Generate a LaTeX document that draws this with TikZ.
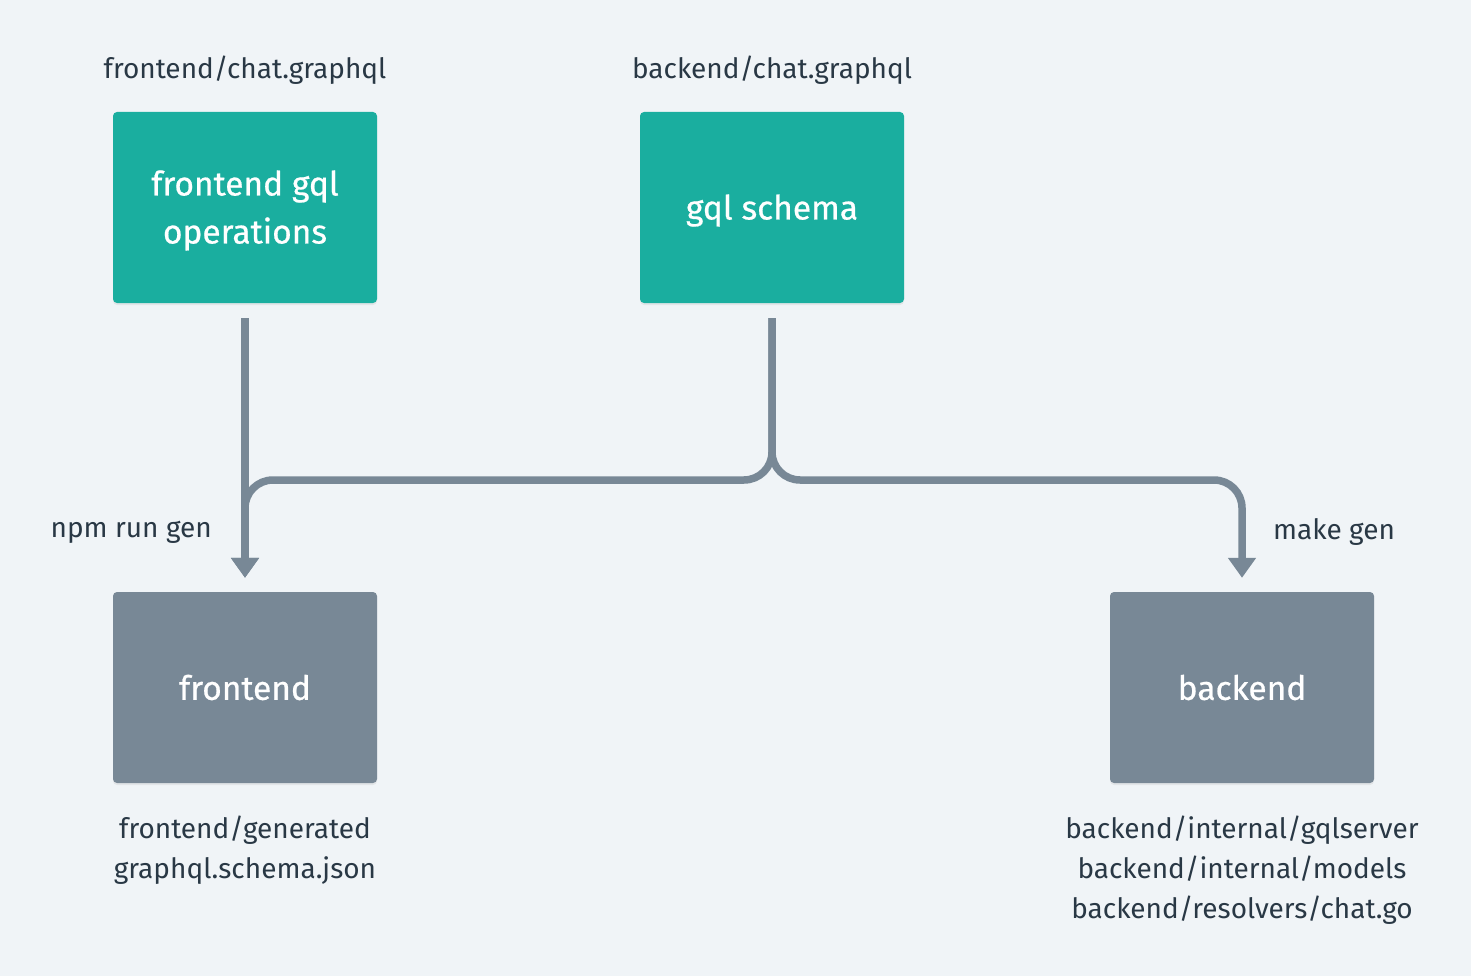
\documentclass[tikz,border=0pt]{standalone}
\usepackage{fontspec}
\setmainfont{Fira Sans}
\newfontfamily\boxfont[FakeBold=0.6]{Fira Sans}
\usetikzlibrary{calc,arrows.meta,shadows}
\definecolor{bg}{HTML}{F0F4F7}
\definecolor{teal}{HTML}{1AAE9F}
\definecolor{slate}{HTML}{788896}
\definecolor{ink}{HTML}{293845}
\begin{document}
\begin{tikzpicture}[x=1pt,y=-1pt,
  box/.style={draw=none,rounded corners=4pt,minimum width=264pt,minimum height=191pt,
    inner sep=0pt,
    drop shadow={opacity=0.12,shadow xshift=0pt,shadow yshift=-2pt}},
  tealbox/.style={box,fill=teal},
  graybox/.style={box,fill=slate},
  boxtxt/.style={inner sep=0pt,align=center,text=white,font=\boxfont\fontsize{33.5}{48}\selectfont},
  lbl/.style={text=ink,align=center,inner sep=0pt,font=\fontsize{28}{40}\selectfont},
  arr/.style={draw=slate,line width=7.5pt,-{Triangle[width=27pt,length=20pt]}}]
\fill[bg] (0,0) rectangle (1471,976);
\useasboundingbox (0,0) rectangle (1471,976);
\node[tealbox] (fgql) at (245,207.5) {};
\node[tealbox] (schema) at (772,207.5) {};
\node[graybox] (fe) at (245,687.5) {};
\node[graybox] (be) at (1242,687.5) {};
\node[boxtxt] (tfgql) at ($(fgql)+(0,3)$) {frontend gql\\operations};
\node[boxtxt] (tschema) at ($(schema)+(0,3)$) {gql schema};
\node[boxtxt] (tfe) at ($(fe)+(0,0)$) {frontend};
\node[boxtxt] (tbe) at ($(be)+(0,0)$) {backend};
\node[lbl] (lfgql) at (245,70) {frontend/chat.graphql};
\node[lbl] (lschema) at (772,70) {backend/chat.graphql};
\node[lbl,anchor=east] (lnpm) at (212,532) {npm run gen};
\node[lbl,anchor=west] (lmake) at (1273,532) {make gen};
\node[lbl] (lfe) at (245,850) {frontend/generated\\graphql.schema.json};
\node[lbl] (lbe) at (1242,870) {backend/internal/gqlserver\\backend/internal/models\\backend/resolvers/chat.go};
\coordinate (bus) at (0,480);
\draw[arr] ($(fgql.south)+(0,15)$) -- ($(fe.north)+(0,-14)$);
\draw[arr,rounded corners=28pt] ($(schema.south)+(0,15)$) -- (schema.south |- bus) -- (fe.north |- bus) -- ($(fe.north)+(0,-14)$);
\draw[arr,rounded corners=28pt] ($(schema.south)+(0,15)$) -- (schema.south |- bus) -- (be.north |- bus) -- ($(be.north)+(0,-14)$);
\end{tikzpicture}
\end{document}
